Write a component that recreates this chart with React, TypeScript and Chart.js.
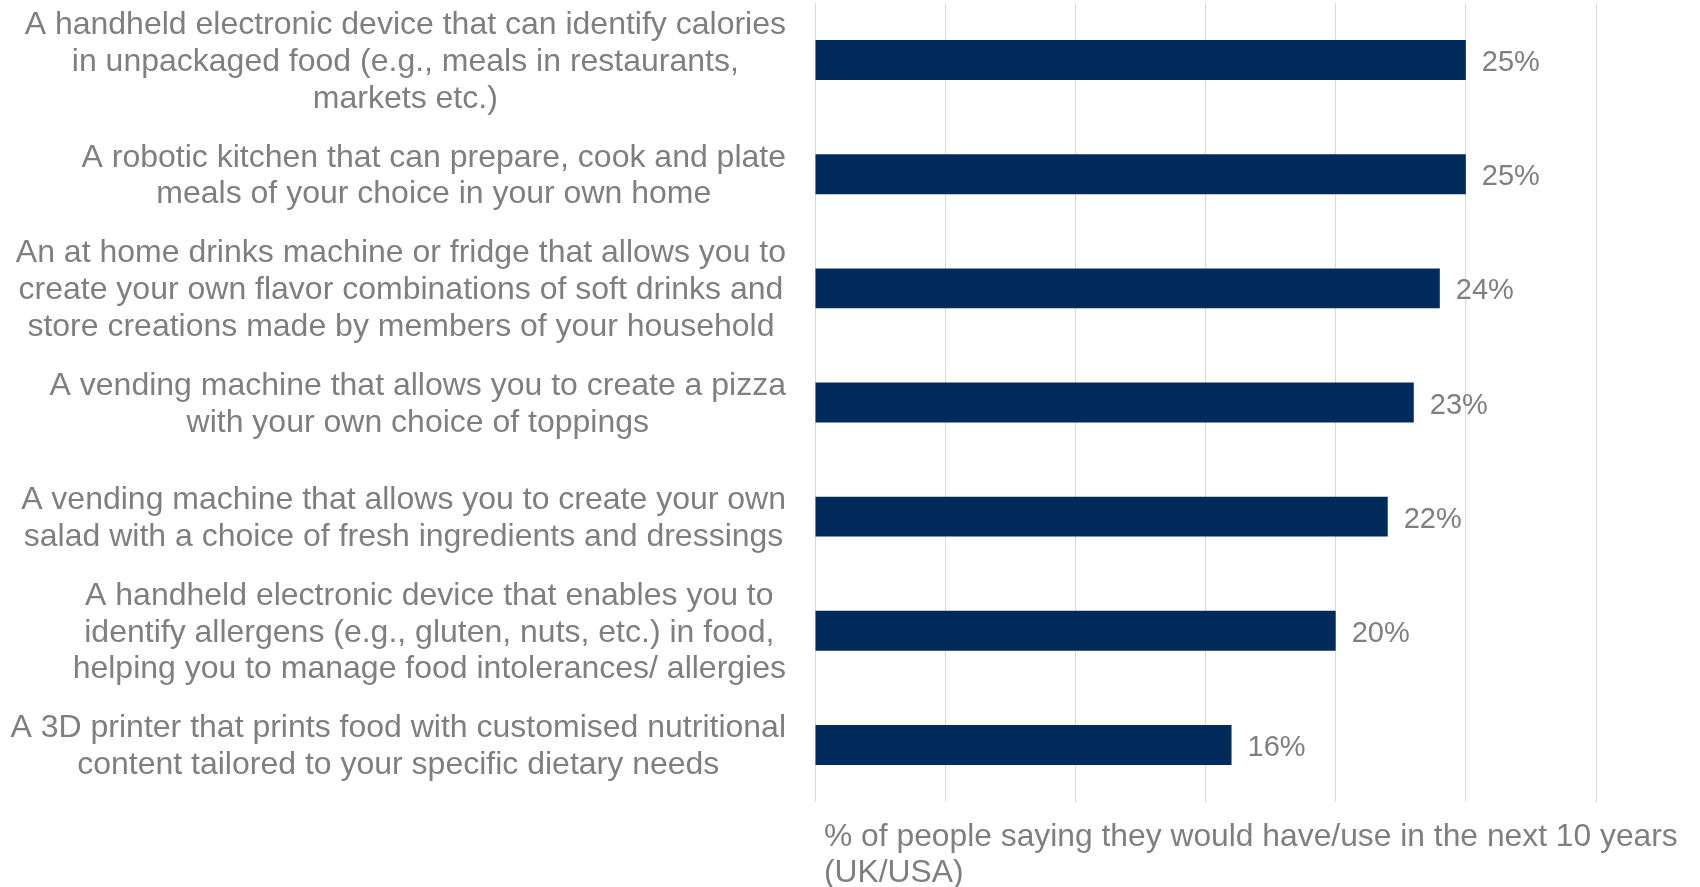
import React, { useEffect, useRef } from "react";
import { Chart, registerables } from "chart.js";

Chart.register(...registerables);

const categories: string[][] = [
  ["A handheld electronic device that can identify calories", "in unpackaged food (e.g., meals in restaurants,", "markets etc.)"],
  ["A robotic kitchen that can prepare, cook and plate", "meals of your choice in your own home"],
  ["An at home drinks machine or fridge that allows you to", "create your own flavor combinations of soft drinks and", "store creations made by members of your household"],
  ["A vending machine that allows you to create a pizza", "with your own choice of toppings"],
  ["A vending machine that allows you to create your own", "salad with a choice of fresh ingredients and dressings"],
  ["A handheld electronic device that enables you to", "identify allergens (e.g., gluten, nuts, etc.) in food,", "helping you to manage food intolerances/ allergies"],
  ["A 3D printer that prints food with customised nutritional", "content tailored to your specific dietary needs"],
];

const values: number[] = [25, 25, 24, 23, 22, 20, 16];

const xMin = 0;
const xMax = 30;
const xStep = 5;

const axisTitle: string[] = [
  "% of people saying they would have/use in the next 10 years",
  "(UK/USA)",
];

const BAR_COLOR = "#022B5B";
const TEXT_COLOR = "#7F7F7F";
const GRID_COLOR = "#D9D9D9";
const LABEL_FONT = '32px "Liberation Sans", Arial, sans-serif';
const TITLE_FONT = '31.8px "Liberation Sans", Arial, sans-serif';
const VALUE_FONT = '29px "Liberation Sans", Arial, sans-serif';

export default function App() {
  const ref = useRef<HTMLCanvasElement | null>(null);

  useEffect(() => {
    document.body.style.margin = "0";
    const canvas = ref.current;
    if (!canvas) return;

    const textPlugin = {
      id: "customText",
      afterDraw(chart: any) {
        const ctx = chart.ctx as CanvasRenderingContext2D;
        const meta = chart.getDatasetMeta(0);
        const area = chart.chartArea;
        ctx.save();
        ctx.font = LABEL_FONT;
        ctx.fillStyle = TEXT_COLOR;
        ctx.textBaseline = "middle";

        // category labels: block right-aligned, lines centered within block
        const blockRight = area.left - 29;
        const lineH = 36.8;
        categories.forEach((lines, i) => {
          const el = meta.data[i];
          const y = el.y + 2;
          const maxW = Math.max(...lines.map((l) => ctx.measureText(l).width));
          const cx = blockRight - maxW / 2;
          ctx.textAlign = "center";
          lines.forEach((l, j) => {
            const ly = y + (j - (lines.length - 1) / 2) * lineH;
            ctx.fillText(l, cx, ly);
          });
        });

        // axis title
        ctx.font = TITLE_FONT;
        ctx.textAlign = "left";
        axisTitle.forEach((t, j) => {
          ctx.fillText(t, area.left + 9, area.bottom + 35 + j * 36);
        });

        // value labels
        ctx.font = VALUE_FONT;
        values.forEach((v, i) => {
          const el = meta.data[i];
          ctx.fillText(v + "%", el.x + 16, el.y + 3);
        });
        ctx.restore();
      },
    };

    const chart = new Chart(canvas, {
      type: "bar",
      data: {
        labels: categories.map((c) => c.join(" ")),
        datasets: [
          {
            data: values,
            backgroundColor: BAR_COLOR,
            borderWidth: 0,
            barPercentage: 0.35,
            categoryPercentage: 1,
          },
        ],
      },
      options: {
        indexAxis: "y",
        responsive: false,
        maintainAspectRatio: false,
        animation: false,
        layout: { padding: { top: 3, right: 104, bottom: 0, left: 0 } },
        plugins: {
          legend: { display: false },
          tooltip: { enabled: false },
          title: { display: false },
        },
        scales: {
          x: {
            min: xMin,
            max: xMax,
            ticks: { display: false, stepSize: xStep },
            grid: { color: GRID_COLOR, lineWidth: 1, drawTicks: false },
            border: { display: false },
            afterFit: (s: any) => {
              s.height = 85;
            },
          },
          y: {
            ticks: { display: false },
            grid: { display: false, drawTicks: false },
            border: { display: false },
            afterFit: (s: any) => {
              s.width = 815;
            },
          },
        },
      },
      plugins: [textPlugin],
    } as any);

    return () => chart.destroy();
  }, []);

  return (
    <div style={{ width: 1700, height: 887, background: "#fff" }}>
      <canvas ref={ref} width={1700} height={887} style={{ display: "block" }} />
    </div>
  );
}
